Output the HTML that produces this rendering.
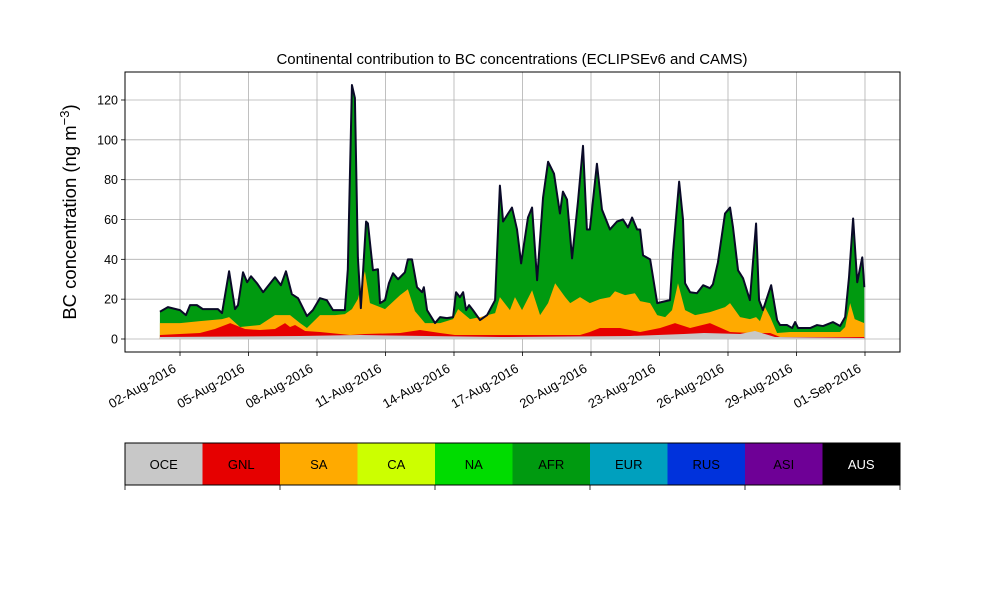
<!DOCTYPE html>
<html><head><meta charset="utf-8"><style>
html,body{margin:0;padding:0;background:#fff;}
svg{display:block;font-family:"Liberation Sans","DejaVu Sans",sans-serif;}
</style></head><body>
<svg id="chart" width="1000" height="600" viewBox="0 0 1000 600"></svg>
<script>
// ---- data (days since 01-Aug-2016 00:00) ----
const totalDays=[0.12,0.47,1.0,1.26,1.44,1.74,2.0,2.4,2.66,2.84,3.15,3.41,3.54,3.76,3.94,4.11,4.37,4.64,5.16,5.42,5.64,5.9,6.17,6.56,6.82,7.13,7.43,7.7,8.22,8.35,8.53,8.66,8.79,8.92,9.15,9.23,9.45,9.67,9.76,9.98,10.15,10.33,10.55,10.85,10.98,11.16,11.38,11.6,11.68,11.82,12.17,12.39,12.69,12.96,13.09,13.26,13.4,13.53,13.66,13.83,14.14,14.45,14.8,15.01,15.15,15.37,15.54,15.76,15.94,16.24,16.42,16.64,16.9,17.12,17.38,17.64,17.77,17.95,18.17,18.43,18.65,18.82,18.95,19.26,19.48,19.83,20.14,20.4,20.62,20.8,21.02,21.15,21.28,21.59,21.9,22.46,22.59,22.86,23.03,23.12,23.34,23.64,23.91,24.21,24.34,24.56,24.87,25.09,25.22,25.44,25.66,25.96,26.23,26.36,26.53,26.89,27.15,27.28,27.59,27.81,27.94,28.07,28.6,28.9,29.16,29.6,29.91,30.13,30.3,30.48,30.66,30.88,30.97];
const totalBC=[13.7,16,14.5,12,17,17,15,15,15,13,34,15,17,33.5,28.5,31.5,28,23.5,31,27,34,22.5,20.5,11.5,14.5,20.5,19.5,14.5,14.5,35,127.5,121,41,15.5,59,58,34.5,35,18,19.5,28,33,30,33.5,40,40,26,23.5,26,14.5,8,11,10.5,11,23.5,21,23.5,14.5,17,14.5,9.5,12,19.5,77,59,63,66,55,38,61,66,29.5,71,89,83,63,74,70,40.5,69,97,55,55,88,65,55,59,60,56,61,55,55,42,40,18,19.5,43,79,60,28,23.5,23,27,25.5,27.5,38.5,63,66,56,34.5,30.5,19.5,58,19.5,14.5,27,9.5,7,7,5.5,8.5,5.5,5.5,7,6.5,8.5,6.5,11,31,60.5,28.5,41,26];
const saDays=[0.12,1.0,1.87,2.84,3.15,3.63,4.5,5.16,5.82,6.26,6.56,7.13,7.79,8.22,8.53,8.79,9.1,9.32,9.98,10.64,10.98,11.29,11.73,12.39,12.96,13.18,13.7,14.14,14.8,15.01,15.45,15.67,15.98,16.42,16.77,17.12,17.43,17.87,18.09,18.52,18.95,19.39,19.83,20.05,20.49,20.92,21.15,21.59,21.9,22.25,22.55,22.81,23.12,23.56,24.21,24.87,25.09,25.53,25.96,26.23,26.4,26.62,26.85,27.15,27.72,29.91,30.13,30.35,30.55,30.97];
const upToSA=[8,8,9,10,11,6,7,12,12,8,5.5,12,12,12.5,15,20,34,18,15,22,25,14,8,8,10,15,10,11,13,21,14.5,21,14.5,24.5,12,18,28,21,18,21,18,20,21,24,22,23,19,18,12,11,14.5,28,14.5,12,13.5,16,18,11,10,11,9,16,11,3,3.5,3.5,6,18,10,8];
const gnlDays=[0.12,1.87,2.53,3.2,3.85,4.5,5.16,5.6,5.82,6.04,6.48,7.13,8.45,9.1,10.64,11.51,12.39,13.04,15.01,18.52,18.95,19.39,20.27,21.15,22.03,22.68,23.34,24.21,25.09,25.96,26.85,27.28,30.97];
const upToGNL=[2,3,5,8,5,4.5,5,8,6,7,4,3.5,2,2.5,3,4.5,3,2,2,2,3.5,5.5,5.5,3.5,5.5,8,5.5,8,3.5,3,3,1,1];
const oceDays=[0.12,6.26,8.88,15.01,20.71,23.07,23.95,25.53,26.18,27.06,30.97];
const oceBC=[1,1.5,2,1,1.5,2.5,3,2.5,4,1,0.5];
const yTicks=[0,20,40,60,80,100,120];
const xTickDays=[1,4,7,10,13,16,19,22,25,28,31];
const xTickLabels=["02-Aug-2016","05-Aug-2016","08-Aug-2016","11-Aug-2016","14-Aug-2016","17-Aug-2016","20-Aug-2016","23-Aug-2016","26-Aug-2016","29-Aug-2016","01-Sep-2016"];
const regions=["OCE","GNL","SA","CA","NA","AFR","EUR","RUS","ASI","AUS"];
const regionColors=["#c8c8c8","#e60000","#ffaa00","#ccff00","#00dc00","#009a10","#00a0be","#0032dc","#6e0096","#000000"];

const NS="http://www.w3.org/2000/svg";
const svg=document.getElementById('chart');
const L=125,R=900,T=72,B=352;
const xs=d=>157.17+d*22.833;
const ys=v=>339-v*1.9917;
function mk(tag,attrs,parent){const e=document.createElementNS(NS,tag);for(const k in attrs)e.setAttribute(k,attrs[k]);(parent||svg).appendChild(e);return e;}

// grid
yTicks.forEach(v=>{
  const g=mk('line',{x1:L,x2:R,y1:ys(v),y2:ys(v),stroke:'#b0b0b0','stroke-width':0.8});
  
  
  mk('line',{x1:L-4,x2:L,y1:ys(v),y2:ys(v),stroke:'#000','stroke-width':0.8});
  const t=mk('text',{x:L-7,y:ys(v)+4.5,'text-anchor':'end','font-size':12.5,fill:'#000'});
  t.textContent=v;
  
  
});
xTickDays.forEach((d,i)=>{
  const x=xs(d);
  const g=mk('line',{x1:x,x2:x,y1:T,y2:B,stroke:'#b0b0b0','stroke-width':0.8});
  
  
  mk('line',{x1:x,x2:x,y1:B,y2:B+4,stroke:'#000','stroke-width':0.8});
  const ax=x-3, ay=B+19;
  const t=mk('text',{x:ax,y:ay,'text-anchor':'end','font-size':13,fill:'#000',transform:`rotate(-30 ${ax} ${ay})`});
  t.textContent=xTickLabels[i];
  
  
});

function area(days,vals,color,name){
  let d=`M${xs(days[0])},${ys(0)}`;
  days.forEach((t,i)=>{d+=` L${xs(t).toFixed(2)},${ys(vals[i]).toFixed(2)}`;});
  d+=` L${xs(days[days.length-1])},${ys(0)} Z`;
  const p=mk('path',{d:d,fill:color,stroke:'none'});
  
  
  return p;
}
area(totalDays,totalBC,'#009a10','afr-area');
area(saDays,upToSA,'#ffaa00','sa-area');
area(gnlDays,upToGNL,'#e60000','gnl-area');
area(oceDays,oceBC,'#c8c8c8','oce-area');
let ld='';
totalDays.forEach((t,i)=>{ld+=(i?' L':'M')+xs(t).toFixed(2)+','+ys(totalBC[i]).toFixed(2);});
const tl=mk('path',{d:ld,fill:'none',stroke:'#0a0a28','stroke-width':2,'stroke-linejoin':'round'});



const fr=mk('rect',{x:L,y:T,width:R-L,height:B-T,fill:'none',stroke:'#000','stroke-width':1});



const ti=mk('text',{x:512,y:64,'text-anchor':'middle','font-size':15,fill:'#000'});
ti.textContent='Continental contribution to BC concentrations (ECLIPSEv6 and CAMS)';



const yl=mk('text',{x:76,y:212,'text-anchor':'middle','font-size':18.5,fill:'#000',transform:'rotate(-90 76 212)'});
yl.innerHTML='BC concentration (ng m<tspan dy="-7" font-size="13">−3</tspan><tspan dy="7">)</tspan>';



// colorbar legend
const cw=(R-L)/regions.length;
regions.forEach((r,i)=>{
  const c=mk('rect',{x:L+i*cw,y:443,width:cw+0.5,height:42,fill:regionColors[i]});
  
  
  const t=mk('text',{x:L+i*cw+cw/2,y:469,'text-anchor':'middle','font-size':13,fill:r==='AUS'?'#fff':'#000'});
  t.textContent=r;
  
  
});
const cb=mk('rect',{x:L,y:443,width:R-L,height:42,fill:'none',stroke:'#000','stroke-width':1});


for(let i=0;i<=regions.length;i+=2){mk('line',{x1:L+i*cw,x2:L+i*cw,y1:485,y2:490,stroke:'#000','stroke-width':0.8});}
</script>
</body></html>
